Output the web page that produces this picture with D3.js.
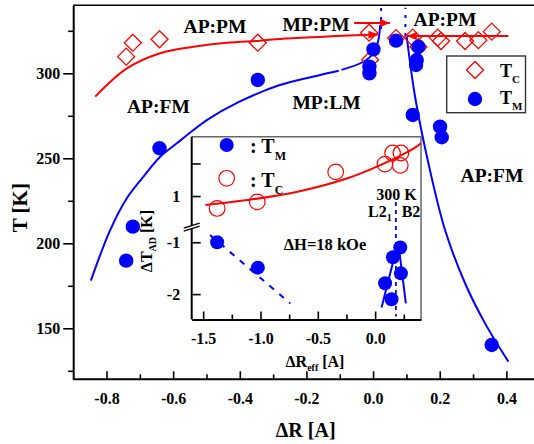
<!DOCTYPE html>
<html><head><meta charset="utf-8">
<script src="https://cdn.jsdelivr.net/npm/d3@7"></script>
<style>
body{margin:0;background:#fff}
text{font-family:"Liberation Serif","Times New Roman",serif;font-weight:bold;fill:#000}
</style>
</head><body>
<svg id="c" width="534" height="444"></svg>
<script>
// ---------- main chart data ----------
const tcX = [-0.741, -0.721, -0.641, -0.346, -0.012, -0.009, 0.069, 0.119, 0.136, 0.194, 0.204, 0.276, 0.316, 0.356];
const tcT = [309.8, 318.0, 320.0, 318.0, 323.9, 308.0, 320.7, 321.0, 315.5, 321.0, 319.0, 319.0, 319.5, 324.5];
const tmX = [-0.741, -0.721, -0.641, -0.346, -0.011, -0.011, 0.001, 0.069, 0.119, 0.129, 0.131, 0.136, 0.201, 0.206, 0.356];
const tmT = [189.8, 209.8, 255.9, 296.1, 300.0, 303.9, 314.1, 319.2, 275.5, 304.9, 307.8, 315.6, 268.6, 262.4, 140.2];
// fitted guide lines
const redFitX = [-0.834, -0.739, -0.639, -0.539, -0.439, -0.339, -0.279, -0.15, -0.03, 0.016];
const redFitT = [286.3, 302.9, 311.8, 315.6, 318.0, 319.2, 320.2, 321.5, 322.6, 322.8];
const redRightX = [0.406, 0.101];
const redRightT = [321.9, 321.9];
const mpArrowX = [-0.057, 0.051];
const mpArrowT = [329.6, 329.6];
const blueA_X = [-0.847, -0.789, -0.739, -0.689, -0.639, -0.589, -0.539, -0.499, -0.404, -0.28, -0.159, -0.103];
const blueA_T = [178, 207.8, 226.5, 239.2, 250.9, 258.8, 266.6, 272.5, 283, 293.1, 299, 301.5];
const blueB_X = [-0.095, -0.029, 0.001, 0.016, 0.021];
const blueB_T = [302, 306.8, 311.8, 319.6, 328.4];
const blueR_X = [0.101, 0.126, 0.166, 0.216, 0.276, 0.336, 0.406];
const blueR_T = [321.5, 286.2, 247.1, 207.8, 176.5, 152.9, 130.4];
const dotLeftX = [0.024, 0.024], dotLeftT = [326, 338.5];
const dotRightX = [0.097, 0.097], dotRightT = [322, 338.5];
const xMajor = [-0.8, -0.6, -0.4, -0.2, 0.0, 0.2, 0.4];
const xMinor = [-0.7, -0.5, -0.3, -0.1, 0.1, 0.3];
const yMajor = [150, 200, 250, 300];
const yMinor = [125, 175, 225, 275, 325];

// ---------- inset data ----------
const insTmX = [-1.378, -1.023, 0.087, 0.143, 0.155, 0.219, 0.225];
const insTmY = [-1.0, -1.49, -1.79, -2.10, -1.29, -1.10, -1.60];
const insTcX = [-1.378, -1.028, -0.344, 0.085, 0.152, 0.225, 0.219];
const insTcY = [0.81, 0.91, 1.37, 1.49, 1.66, 1.66, 1.47];
const insRedX = [-1.48, -1.115, -0.678, -0.241, 0.05, 0.341, 0.4];
const insRedY = [0.862, 0.938, 1.066, 1.272, 1.477, 1.734, 1.811];
const insDashX = [-1.44, -0.74], insDashY = [-0.86, -2.18];
const insL1X = [0.056, 0.166], insL1Y = [-2.26, -1.30];
const insL2X = [0.268, 0.21], insL2Y = [-2.18, -1.15];
const insDotX = 0.181, insDotTop = 0.91, insDotBot = -2.43;
const ixMajor = [-1.5, -1.0, -0.5, 0.0];
const ixMinor = [-1.25, -0.75, -0.25, 0.25];
const iyUpTicks = [1, 1.5];
const iyLoTicks = [-1, -2];

const svg = d3.select('#c');
const W = 534, H = 444;
const RED = '#ff0000', BLUE = '#0000ff';
const FONT = '"Liberation Serif", "Times New Roman", Times, serif';

// defs: arrowheads
const defs = svg.append('defs');
defs.append('marker').attr('id', 'arr').attr('viewBox', '0 0 10 8')
  .attr('refX', 10).attr('refY', 4).attr('markerWidth', 10).attr('markerHeight', 8)
  .attr('markerUnits', 'userSpaceOnUse').attr('orient', 'auto')
  .append('path').attr('d', 'M0,0L10,4L0,8Z').attr('fill', RED);

// main scales
const mL = 73.2, mR = 539.7, mT = 5.3, mB = 379.3;
const x = d3.scaleLinear().domain([-0.9, 0.5]).range([mL, mR]);
const y = d3.scaleLinear().domain([120, 340]).range([mB, mT]);
const fmt1 = d => d.toFixed(1);

// top border
svg.append('line').attr('x1', mL).attr('x2', W).attr('y1', mT).attr('y2', mT)
  .attr('stroke', '#000').attr('stroke-width', 1.5);

// x axis (inward ticks)
const gx = svg.append('g').attr('transform', `translate(0,${mB})`);
gx.call(d3.axisBottom(x).tickValues(xMajor).tickSize(-8).tickSizeOuter(0).tickPadding(13).tickFormat(fmt1));
gx.append('g').call(d3.axisBottom(x).tickValues(xMinor).tickSize(-5).tickSizeOuter(0).tickFormat(''))
  .select('.domain').remove();
// y axis (outward ticks)
const gy = svg.append('g').attr('transform', `translate(${mL},0)`);
gy.call(d3.axisLeft(y).tickValues(yMajor).tickSize(10).tickSizeOuter(0).tickPadding(3).tickFormat(d3.format('d')));
gy.append('g').call(d3.axisLeft(y).tickValues(yMinor).tickSize(5).tickSizeOuter(0).tickFormat(''))
  .select('.domain').remove();
[gx, gy].forEach(g => {
  g.attr('font-family', FONT);
  g.selectAll('.domain').attr('stroke', '#000').attr('stroke-width', 2);
  g.selectAll('.tick line').attr('stroke', '#000').attr('stroke-width', 1.6);
  g.selectAll('.tick text').style('font-size', '16px');
});
gx.select('.domain').attr('d', `M${mL},0H${W}`);

// axis titles
svg.append('text').attr('x', 305.7).attr('y', 437).attr('text-anchor', 'middle')
  .style('font-size', '20px').text('ΔR [A]');
svg.append('text').attr('transform', 'translate(27,207.7) rotate(-90)').attr('text-anchor', 'middle')
  .style('font-size', '21px').text('T [K]');

// line helper
const zipPts = (xs, ys) => xs.map((v, i) => [v, ys[i]]);
const lineMain = d3.line().x(d => x(d[0])).y(d => y(d[1])).curve(d3.curveCatmullRom.alpha(0.5));
const lineStraight = d3.line().x(d => x(d[0])).y(d => y(d[1]));

// blue curves
svg.append('path').attr('d', lineMain(zipPts(blueA_X, blueA_T))).attr('fill', 'none').attr('stroke', BLUE).attr('stroke-width', 2);
svg.append('path').attr('d', lineMain(zipPts(blueB_X, blueB_T))).attr('fill', 'none').attr('stroke', BLUE).attr('stroke-width', 2);
svg.append('path').attr('d', lineMain(zipPts(blueR_X, blueR_T))).attr('fill', 'none').attr('stroke', BLUE).attr('stroke-width', 2);
// blue dotted verticals
[[dotLeftX, dotLeftT], [dotRightX, dotRightT]].forEach(([xs, ts]) => {
  svg.append('path').attr('d', lineStraight(zipPts(xs, ts))).attr('fill', 'none')
    .attr('stroke', BLUE).attr('stroke-width', 2).attr('stroke-dasharray', '3,6');
});
// red curves with arrows
svg.append('path').attr('d', lineMain(zipPts(redFitX, redFitT))).attr('fill', 'none')
  .attr('stroke', RED).attr('stroke-width', 2).attr('marker-end', 'url(#arr)');
svg.append('path').attr('d', lineStraight(zipPts(redRightX, redRightT))).attr('fill', 'none')
  .attr('stroke', RED).attr('stroke-width', 2).attr('marker-end', 'url(#arr)');
svg.append('path').attr('d', lineStraight(zipPts(mpArrowX, mpArrowT))).attr('fill', 'none')
  .attr('stroke', RED).attr('stroke-width', 2).attr('marker-end', 'url(#arr)');

// markers
const diamond = s => `M0,${-s}L${s},0L0,${s}L${-s},0Z`;
svg.append('g').selectAll('path').data(zipPts(tcX, tcT)).join('path')
  .attr('transform', d => `translate(${x(d[0])},${y(d[1])})`)
  .attr('d', diamond(8.5)).attr('fill', 'none').attr('stroke', RED).attr('stroke-width', 1.3);
svg.append('g').selectAll('circle').data(zipPts(tmX, tmT)).join('circle')
  .attr('cx', d => x(d[0])).attr('cy', d => y(d[1])).attr('r', 7.2).attr('fill', BLUE);

// region labels
const lab = (t, cx, by) => svg.append('text').attr('x', cx).attr('y', by).attr('text-anchor', 'middle')
  .style('font-size', '19.5px').text(t);
lab('AP:PM', 215, 33);
lab('AP:FM', 158.4, 113);
lab('MP:LM', 326.5, 109);
lab('MP:PM', 316, 30.5);
lab('AP:PM', 445, 26);
lab('AP:FM', 492, 181.5);

// main legend
svg.append('rect').attr('x', 446.7).attr('y', 56).attr('width', 78.8).attr('height', 56.7)
  .attr('fill', '#fff').attr('stroke', '#333').attr('stroke-width', 1.4);
svg.append('path').attr('transform', 'translate(475,70)').attr('d', diamond(8.5))
  .attr('fill', 'none').attr('stroke', RED).attr('stroke-width', 1.3);
svg.append('circle').attr('cx', 475).attr('cy', 99).attr('r', 7.2).attr('fill', BLUE);
const legT = (by, sub) => {
  const t = svg.append('text').attr('x', 500).attr('y', by).style('font-size', '18px');
  t.append('tspan').text('T');
  t.append('tspan').attr('dy', 6).style('font-size', '11px').text(sub);
};
legT(77, 'C');
legT(104, 'M');

// ---------- inset ----------
const iL = 191.7, iR = 421, iT = 136.7, iB = 319.5, iBr = 226.7;
const ix = d3.scaleLinear().domain([-1.6, 0.4]).range([iL, iR]);
const iyU = d3.scaleLinear().domain([0.53, 1.91]).range([iBr, iT]);
const iyL = d3.scaleLinear().domain([-2.49, -0.7]).range([iB, iBr]);

const ins = svg.append('g');
ins.append('rect').attr('x', iL).attr('y', iT).attr('width', iR - iL).attr('height', iB - iT)
  .attr('fill', '#fff').attr('stroke', 'none');
ins.append('path').attr('d', `M${iL},${iT}H${iR}V${iB}`).attr('fill', 'none')
  .attr('stroke', '#666').attr('stroke-width', 1.5);

// inset x axis
const igx = ins.append('g').attr('transform', `translate(0,${iB})`);
igx.call(d3.axisBottom(ix).tickValues(ixMajor).tickSize(-8).tickSizeOuter(0).tickPadding(13).tickFormat(fmt1));
igx.append('g').call(d3.axisBottom(ix).tickValues(ixMinor).tickSize(-5).tickSizeOuter(0).tickFormat(''))
  .select('.domain').remove();
// inset y axis (two segments)
const igyU = ins.append('g').attr('transform', `translate(${iL},0)`);
igyU.call(d3.axisLeft(iyU).tickValues(iyUpTicks).tickSize(-9).tickSizeOuter(0).tickPadding(11.5)
  .tickFormat(d => d === 1 ? '1' : ''));
const igyL = ins.append('g').attr('transform', `translate(${iL},0)`);
igyL.call(d3.axisLeft(iyL).tickValues(iyLoTicks).tickSize(-9).tickSizeOuter(0).tickPadding(11.5)
  .tickFormat(d => '-' + Math.abs(d)));
[igx, igyU, igyL].forEach(g => {
  g.attr('font-family', FONT);
  g.selectAll('.domain').attr('stroke', '#000').attr('stroke-width', 2);
  g.selectAll('.tick line').attr('stroke', '#000').attr('stroke-width', 1.6);
  g.selectAll('.tick text').style('font-size', '16px');
});
igyU.select('.domain').attr('d', `M0,${iBr}V${iT}`);
igyL.select('.domain').attr('d', `M0,${iB}V${iBr}`);
// axis break marks
ins.append('path').attr('d', `M${iL - 8},${iBr + 4.5}L${iL + 8},${iBr - 0.5}L${iL + 8},${iBr - 3.5}L${iL - 8},${iBr + 1.5}Z`)
  .attr('fill', '#fff');
ins.append('path').attr('d', `M${iL - 8},${iBr + 4.5}L${iL + 8},${iBr - 0.5}M${iL - 8},${iBr + 1.5}L${iL + 8},${iBr - 3.5}`)
  .attr('stroke', '#000').attr('stroke-width', 1.4).attr('fill', 'none');

// inset titles
const ixl = ins.append('text').attr('x', 315).attr('y', 367).attr('text-anchor', 'middle').style('font-size', '16px');
ixl.append('tspan').text('ΔR');
ixl.append('tspan').attr('dy', 4).style('font-size', '10px').text('eff');
ixl.append('tspan').attr('dy', -4).text(' [A]');
const iyl = ins.append('text').attr('transform', 'translate(151.5,241) rotate(-90)').attr('text-anchor', 'middle').style('font-size', '16px');
iyl.append('tspan').text('ΔT');
iyl.append('tspan').attr('dy', 4).style('font-size', '10px').text('AD');
iyl.append('tspan').attr('dy', -4).text(' [K]');

// inset lines
const iLineU = d3.line().x(d => ix(d[0])).y(d => iyU(d[1])).curve(d3.curveCatmullRom.alpha(0.5));
const iLineL = d3.line().x(d => ix(d[0])).y(d => iyL(d[1]));
ins.append('path').attr('d', iLineU(zipPts(insRedX, insRedY))).attr('fill', 'none').attr('stroke', RED).attr('stroke-width', 2);
ins.append('path').attr('d', iLineL(zipPts(insDashX, insDashY))).attr('fill', 'none')
  .attr('stroke', BLUE).attr('stroke-width', 2).attr('stroke-dasharray', '6,7');
ins.append('path').attr('d', iLineL(zipPts(insL1X, insL1Y))).attr('fill', 'none').attr('stroke', BLUE).attr('stroke-width', 2);
ins.append('path').attr('d', iLineL(zipPts(insL2X, insL2Y))).attr('fill', 'none').attr('stroke', BLUE).attr('stroke-width', 2);
ins.append('line').attr('x1', ix(insDotX)).attr('x2', ix(insDotX)).attr('y1', iyU(insDotTop)).attr('y2', iyL(insDotBot))
  .attr('stroke', BLUE).attr('stroke-width', 1.8).attr('stroke-dasharray', '4,4');

// inset markers
ins.append('g').selectAll('circle').data(zipPts(insTcX, insTcY)).join('circle')
  .attr('cx', d => ix(d[0])).attr('cy', d => iyU(d[1])).attr('r', 7.8)
  .attr('fill', 'none').attr('stroke', RED).attr('stroke-width', 1.2);
ins.append('g').selectAll('circle').data(zipPts(insTmX, insTmY)).join('circle')
  .attr('cx', d => ix(d[0])).attr('cy', d => iyL(d[1])).attr('r', 7).attr('fill', BLUE);

// inset legend
ins.append('circle').attr('cx', 226.7).attr('cy', 145).attr('r', 7).attr('fill', BLUE);
ins.append('circle').attr('cx', 226.7).attr('cy', 178.3).attr('r', 7.8).attr('fill', 'none').attr('stroke', RED).attr('stroke-width', 1.2);
const iLeg = (by, sub) => {
  const t = ins.append('text').attr('x', 250).attr('y', by).style('font-size', '20px');
  t.append('tspan').text(': T');
  t.append('tspan').attr('dy', 7).style('font-size', '12px').text(sub);
};
iLeg(153, 'M');
iLeg(187, 'C');

// inset annotations
ins.append('text').attr('x', 325).attr('y', 250).attr('text-anchor', 'middle').style('font-size', '16.5px').text('ΔH=18 kOe');
ins.append('text').attr('x', 396.5).attr('y', 200).attr('text-anchor', 'middle').style('font-size', '16px').text('300 K');
const l21 = ins.append('text').attr('x', 368).attr('y', 217).style('font-size', '16px');
l21.append('tspan').text('L2');
l21.append('tspan').attr('dy', 4).style('font-size', '10px').text('1');
ins.append('text').attr('x', 401.7).attr('y', 217).style('font-size', '16px').text('B2');

// force serif bold on every text
svg.selectAll('text').style('font-family', FONT).style('font-weight', 'bold').style('fill', '#000');
</script>
</body></html>
